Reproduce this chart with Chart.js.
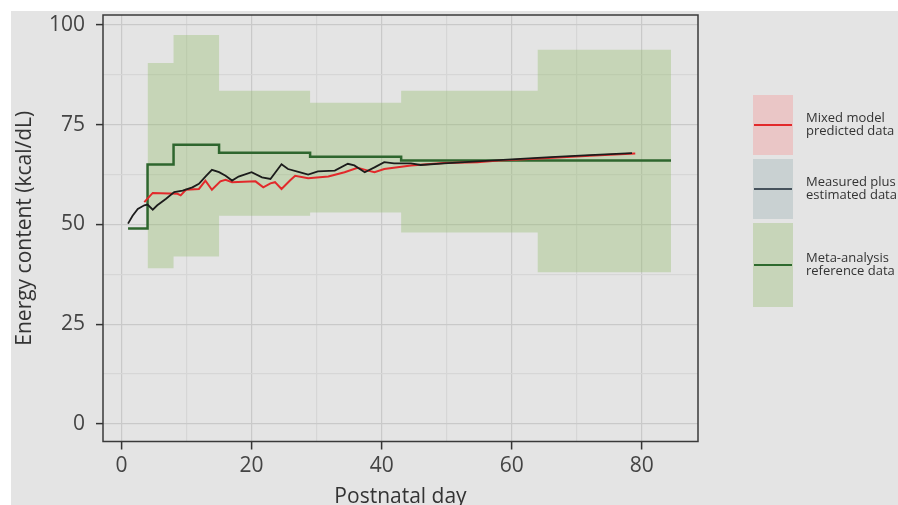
<!DOCTYPE html>
<html>
<head>
<meta charset="utf-8">
<script src="https://cdn.jsdelivr.net/npm/chart.js@4.4.1/dist/chart.umd.min.js"></script>
<style>
  html, body { margin: 0; padding: 0; background: #fff; }
  #wrap { position: relative; width: 898px; height: 505px; }
</style>
</head>
<body>
<div id="wrap"><canvas id="chart" width="898" height="505"></canvas></div>
<script>
// meta-analysis reference band (step, holds value until next x)
const refBandX = [4, 8, 15, 29, 43, 64, 84.5];
const refBandHi = [90.5, 97.5, 83.5, 80.5, 83.5, 93.8, 93.8];
const refBandLo = [39, 42, 52.2, 53, 48, 38, 38];
// meta-analysis reference line (step)
const refLineX = [1, 4, 8, 15, 29, 43, 84.5];
const refLineY = [49, 65, 70, 68, 67, 66, 66];
// mixed model predicted
const mixedX = [3.5, 4.8, 8.6, 9.1, 9.9, 11.9, 12.9, 13.9, 15.2, 16, 17, 20.6, 21.8, 22.9, 23.6, 24.6, 25.9, 26.7, 28.7, 31.8, 34.3, 36.3, 37.9, 38.9, 40.4, 44.5, 49.6, 54.7, 58, 65, 72, 79];
const mixedY = [55.6, 57.9, 57.7, 57.3, 58.7, 58.9, 61, 58.7, 60.8, 61.2, 60.6, 60.8, 59.3, 60.3, 60.6, 58.9, 61, 62.2, 61.6, 62, 63.1, 64.2, 63.5, 63.1, 63.9, 64.8, 65.4, 65.6, 66, 66.6, 67.2, 67.8];
// measured plus estimated
const measX = [1, 1.7, 2.5, 3.5, 4, 4.8, 5.5, 6.8, 8.1, 9.4, 10.9, 11.9, 12.9, 13.9, 15, 16, 17, 18, 20, 21.6, 22.9, 24.6, 25.6, 27.2, 28.7, 30.2, 32.8, 34.8, 35.8, 37.4, 38.9, 40.4, 41.9, 44.5, 46, 49.6, 54.7, 60, 66, 72, 78.5];
const measY = [50.2, 52.2, 53.9, 54.8, 55, 53.7, 54.8, 56.4, 58.1, 58.5, 59.3, 60.2, 62, 63.7, 63.1, 62.2, 61, 62, 63.1, 61.8, 61.4, 65.1, 63.9, 63.2, 62.5, 63.3, 63.5, 65.2, 64.8, 63.1, 64.3, 65.6, 65.3, 65.3, 64.9, 65.3, 65.8, 66.3, 66.9, 67.4, 67.9];

const legendItems = [
  { lines: ["Mixed model", "predicted data"], box: "#eac6c6", line: "#e2292b" },
  { lines: ["Measured plus", "estimated data"], box: "#c9d1d2", line: "#46525c" },
  { lines: ["Meta-analysis", "reference data"], box: "#c7d5b9", line: "#2e6a2e" }
];

const C = { bg: "#e4e4e4", major: "#c9c9c9", minor: "#d6d6d6", text: "#444", band: "rgba(150,188,110,0.38)" };
const pts = (xs, ys) => xs.map((x, i) => ({ x, y: ys[i] }));
const TF = { family: "'Open Sans', sans-serif", size: 21 };

const bgPlugin = {
  id: "bg",
  beforeDraw(c) {
    const g = c.ctx; g.save();
    g.fillStyle = "#fff"; g.fillRect(0, 0, c.width, c.height);
    g.fillStyle = C.bg; g.fillRect(11, 11, c.width - 11, c.height - 11);
    g.restore();
  },
  afterDatasetsDraw(c) {
    const g = c.ctx, a = c.chartArea; g.save();
    g.strokeStyle = "#3a3a3a"; g.lineWidth = 1.5;
    g.strokeRect(a.left, a.top, a.right - a.left, a.bottom - a.top);
    g.restore();
  },
  afterDraw(c) {
    const g = c.ctx; g.save();
    const boxes = [[95, 60], [159, 60], [223, 84]];
    legendItems.forEach((it, i) => {
      const [y0, h] = boxes[i], mid = y0 + h / 2;
      g.fillStyle = it.box; g.fillRect(753, y0, 40, h);
      g.strokeStyle = it.line; g.lineWidth = 2;
      g.beginPath(); g.moveTo(754, mid); g.lineTo(792, mid); g.stroke();
      g.fillStyle = "#333"; g.font = "13px 'Open Sans', sans-serif"; g.textBaseline = "middle";
      g.fillText(it.lines[0], 806, mid - 7); g.fillText(it.lines[1], 806, mid + 6);
    });
    g.restore();
  }
};

const noPad = s => { s.paddingTop = 0; s.paddingBottom = 0; s.paddingLeft = 0; s.paddingRight = 0 };

new Chart(document.getElementById("chart"), {
  type: "line",
  data: {
    datasets: [
      { data: pts(refBandX, refBandHi), order: 10, stepped: true, borderWidth: 0, pointRadius: 0, fill: false },
      { data: pts(refBandX, refBandLo), order: 9, stepped: true, borderWidth: 0, pointRadius: 0, fill: "-1", backgroundColor: C.band },
      { data: pts(refLineX, refLineY), order: 3, stepped: true, borderColor: "#2e662e", borderWidth: 2.5, pointRadius: 0, fill: false },
      { data: pts(mixedX, mixedY), order: 2, borderColor: "#e2292b", borderWidth: 2, pointRadius: 0, fill: false },
      { data: pts(measX, measY), order: 1, borderColor: "#1c1c1c", borderWidth: 1.8, pointRadius: 0, fill: false }
    ]
  },
  options: {
    responsive: false, animation: false, devicePixelRatio: 1,
    layout: { padding: { left: 11, top: 15, right: 200, bottom: 0 } },
    plugins: { legend: { display: false }, tooltip: { enabled: false } },
    scales: {
      x: {
        type: "linear", min: -2.85, max: 88.65,
        afterFit: s => { s.height = 63.5; noPad(s) },
        border: { display: false },
        grid: { color: c => c.tick && c.tick.value % 20 === 0 ? C.major : C.minor, lineWidth: 1.2, tickLength: 8, tickWidth: 1.5, tickColor: c => c.tick && c.tick.value % 20 === 0 ? "#333" : "transparent" },
        ticks: { stepSize: 10, includeBounds: false, autoSkip: false, maxRotation: 0, padding: 4, color: C.text, font: TF, callback: v => v % 20 === 0 ? v : "" },
        title: { display: true, text: "Postnatal day", color: "#333", font: TF, padding: { top: 0, bottom: -5 } }
      },
      y: {
        min: -4.4, max: 102.5,
        afterFit: s => { s.width = 92; noPad(s) },
        border: { display: false },
        grid: { color: c => c.tick && c.tick.value % 25 === 0 ? C.major : C.minor, lineWidth: 1.2, tickLength: 7, tickWidth: 1.5, tickColor: c => c.tick && c.tick.value % 25 === 0 ? "#333" : "transparent" },
        ticks: { stepSize: 12.5, includeBounds: false, autoSkip: false, padding: 11, color: C.text, font: TF, callback: v => v % 25 === 0 ? v : "" },
        title: { display: true, text: "Energy content (kcal/dL)", color: "#333", font: TF, padding: { top: 1, bottom: 0 } }
      }
    }
  },
  plugins: [bgPlugin]
});
</script>
</body>
</html>
